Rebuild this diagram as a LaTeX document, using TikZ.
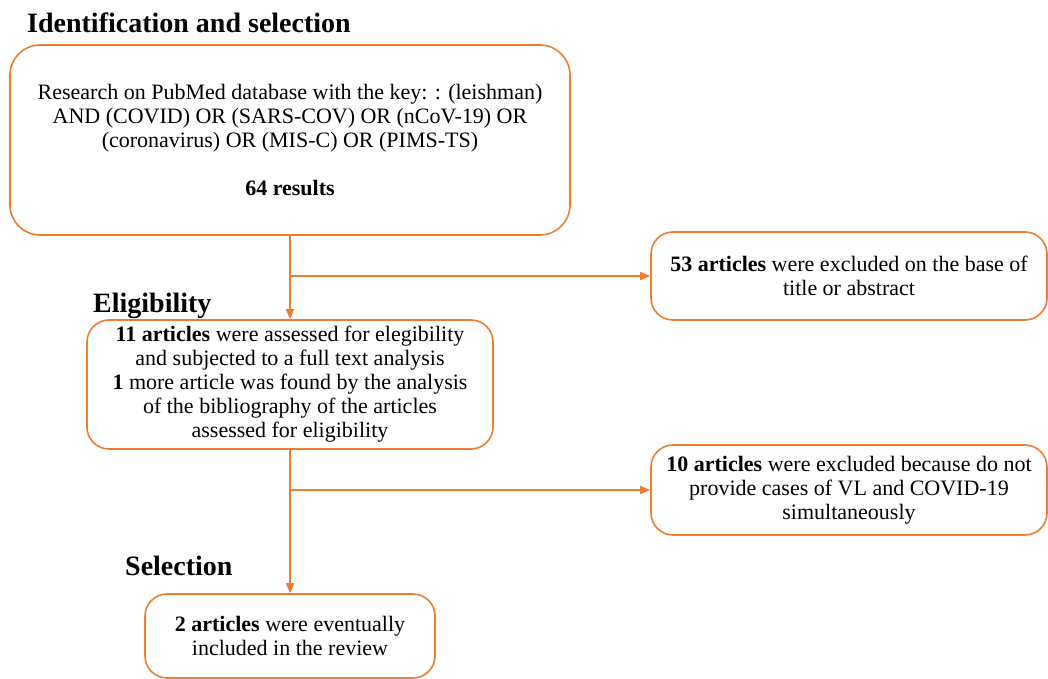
\documentclass[tikz,border=0pt]{standalone}
\usepackage{fontspec}
\setmainfont{Liberation Serif}
\usetikzlibrary{arrows.meta}
\definecolor{flow}{RGB}{237,125,49}
\begin{document}
\begin{tikzpicture}[x=1pt,y=-1pt,
  box/.style={draw=flow,line width=1.6pt,rounded corners=22pt,align=center,
    font=\fontsize{22}{24}\selectfont,inner sep=0pt},
  head/.style={anchor=base west,font=\fontsize{28}{30}\selectfont\bfseries,inner sep=0pt},
  arr/.style={draw=flow,line width=1.6pt,-{Triangle[length=10pt,width=8pt]}}]
\useasboundingbox (0,0) rectangle (1048,679);
\fill[white] (0,0) rectangle (1048,679);

\node[head] (h1) at (27,33) {Identification and selection};
\node[head] (h2) at (93,312) {Eligibility};
\node[head] (h3) at (125,575) {Selection};

\node[box,rounded corners=30pt,minimum width=560pt,minimum height=190pt] (b1) at (290,140)
  {Research on PubMed database with the key: : (leishman)\\
   AND (COVID) OR (SARS-COV) OR (nCoV-19) OR\\
   (coronavirus) OR (MIS-C) OR (PIMS-TS)\\[24pt]
   \textbf{64 results}};

\node[box,minimum width=396pt,minimum height=88pt] (b3) at (849,276)
  {\textbf{53 articles} were excluded on the base of\\ title or abstract};

\node[box,minimum width=406pt,minimum height=129pt] (b2) at (290,384.5)
  {\textbf{11 articles} were assessed for elegibility\\
   and subjected to a full text analysis\\
   \textbf{1} more article was found by the analysis\\
   of the bibliography of the articles\\
   assessed for eligibility};

\node[box,minimum width=396pt,minimum height=90pt] (b5) at (849,490)
  {\textbf{10 articles} were excluded because do not\\
   provide cases of VL and COVID-19\\ simultaneously};

\node[box,minimum width=290pt,minimum height=84pt] (b4) at (290,636)
  {\textbf{2 articles} were eventually\\ included in the review};

\coordinate (j1) at (290,276);
\coordinate (j2) at (290,490);
\draw[arr] (b1.south) -- (b2.north);
\draw[arr] (j1) -- (b3.west);
\draw[arr] (b2.south) -- (b4.north);
\draw[arr] (j2) -- (b5.west);
\end{tikzpicture}
\end{document}
